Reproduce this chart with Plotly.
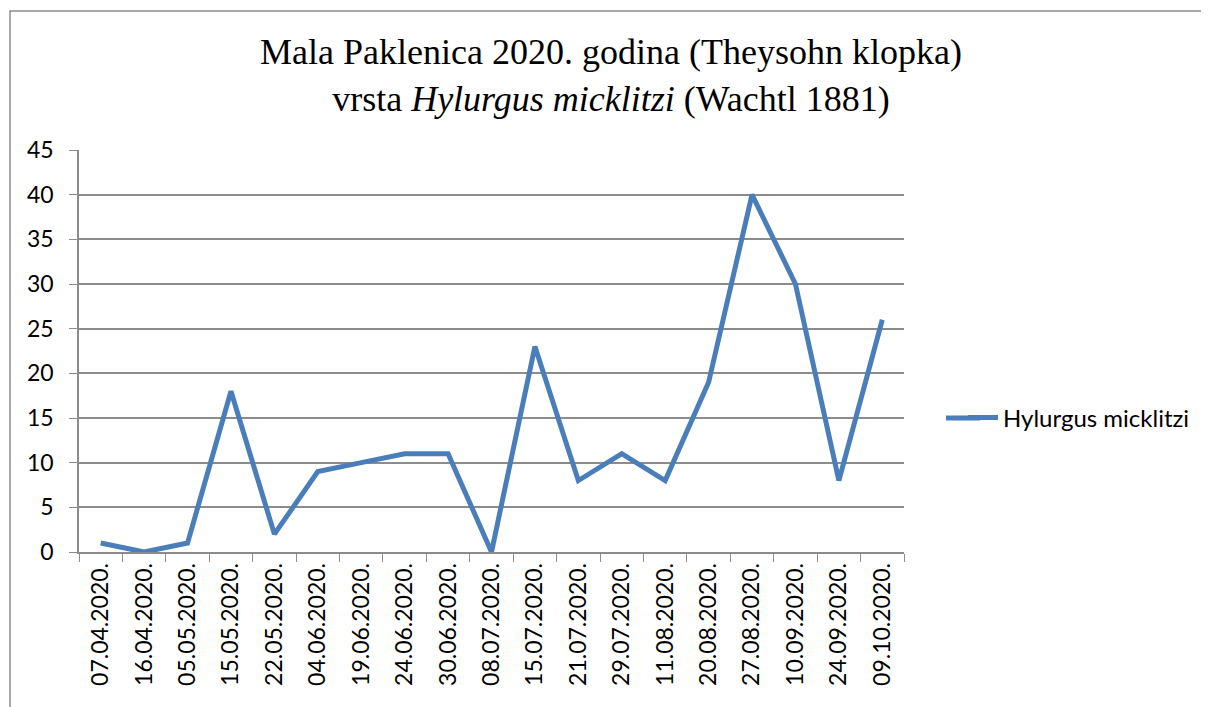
import plotly.graph_objects as go

dates = ["07.04.2020.", "16.04.2020.", "05.05.2020.", "15.05.2020.", "22.05.2020.",
         "04.06.2020.", "19.06.2020.", "24.06.2020.", "30.06.2020.", "08.07.2020.",
         "15.07.2020.", "21.07.2020.", "29.07.2020.", "11.08.2020.", "20.08.2020.",
         "27.08.2020.", "10.09.2020.", "24.09.2020.", "09.10.2020."]
counts = [1, 0, 1, 18, 2, 9, 10, 11, 11, 0, 23, 8, 11, 8, 19, 40, 30, 8, 26]
series_name = "Hylurgus micklitzi"
y_ticks = [0, 5, 10, 15, 20, 25, 30, 35, 40, 45]

W, H = 1209, 707
OFF = 8  # page body margin offset
L, T = 79 - OFF, 150 - OFF
pw, ph = 825, 402
R, B = W - L - pw, H - T - ph

def px_x(p):
    return (p - OFF - L) / pw

def px_y(p):
    return (T + ph - (p - OFF)) / ph

blue = "#4A7EBB"
fig = go.Figure()
fig.add_trace(go.Scatter(
    x=dates, y=counts, mode="lines", name=series_name,
    line=dict(color=blue, width=5),
))

grid = "#8C8C8C"
fig.update_layout(
    width=W, height=H,
    margin=dict(l=L, r=R, t=T, b=B),
    paper_bgcolor="white", plot_bgcolor="white",
    font=dict(family="Lato, Carlito, sans-serif", size=23, color="black"),
    title=dict(
        text="Mala Paklenica 2020. godina (Theysohn klopka)<br>vrsta <i>Hylurgus micklitzi</i> (Wachtl 1881)",
        font=dict(family="Liberation Serif, Times New Roman, serif", size=36, color="black"),
        x=(611 - OFF) / W, xanchor="center", xref="container",
        y=1 - (64 - OFF) / H, yanchor="top", yref="container",
    ),
    showlegend=True,
    legend=dict(x=px_x(963), y=px_y(418), xanchor="left", yanchor="middle",
                font=dict(size=24), bgcolor="rgba(0,0,0,0)"),
    xaxis=dict(
        type="category", tickson="boundaries", ticks="outside", ticklen=8,
        tickcolor=grid, showline=True, linecolor=grid, linewidth=1.5,
        showgrid=False, tickangle=-90, range=[-0.5, len(dates) - 0.5],
    ),
    yaxis=dict(
        range=[0, 45], tickvals=y_ticks, ticks="outside", ticklen=8,
        tickcolor=grid, showline=True, linecolor=grid, linewidth=1.5,
        showgrid=True, gridcolor=grid, gridwidth=1.5, zeroline=False,
        ticklabelstandoff=11,
    ),
    shapes=[
        dict(type="rect", xref="paper", yref="paper",
             x0=px_x(10), x1=px_x(W + 20), y0=px_y(H + 20), y1=px_y(11),
             line=dict(color="#8C8C8C", width=1.5), fillcolor="rgba(0,0,0,0)"),
        # extend legend swatch to Excel-like length
        dict(type="line", xref="paper", yref="paper",
             x0=px_x(946), x1=px_x(980), y0=px_y(418), y1=px_y(418),
             line=dict(color=blue, width=5)),
    ],
)

fig.write_html("out.html")
